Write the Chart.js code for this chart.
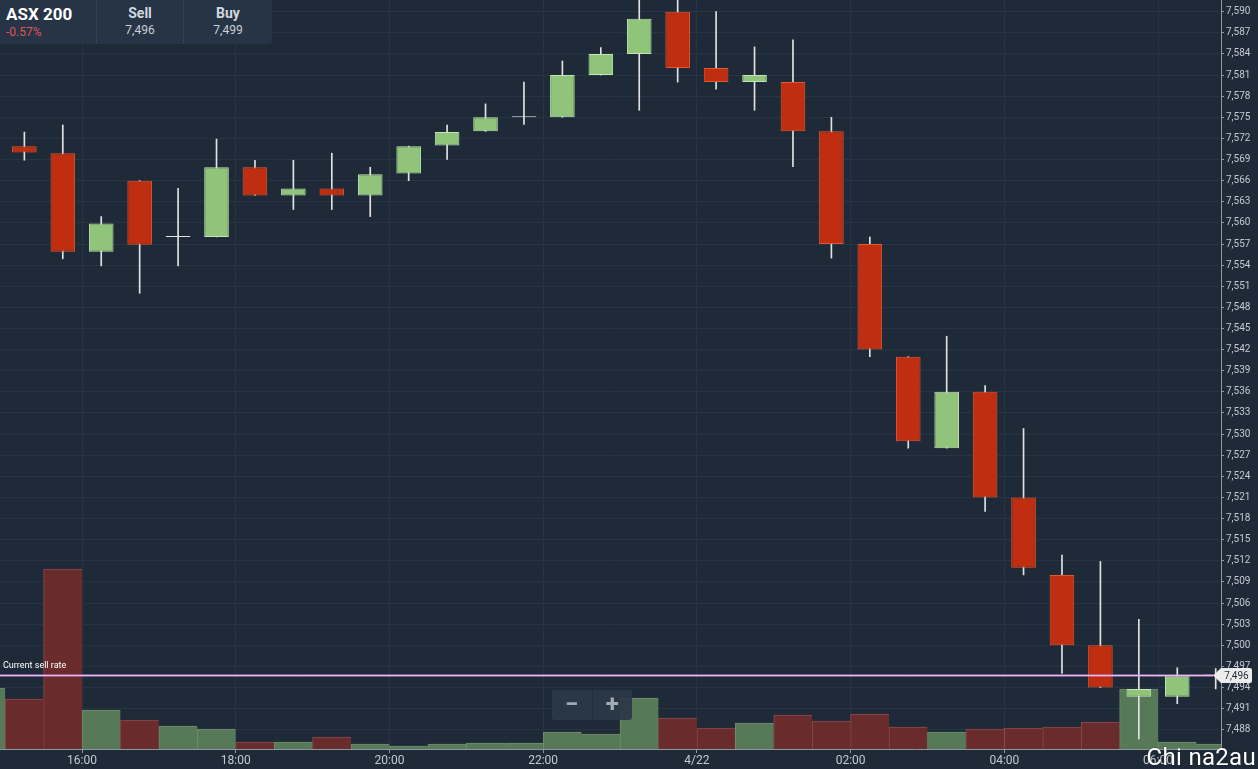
<!DOCTYPE html>
<html>
<head>
<meta charset="utf-8">
<script src="https://cdn.jsdelivr.net/npm/chart.js@4/dist/chart.umd.min.js"></script>
<style>
  html, body { margin: 0; padding: 0; background: #1f2a38; overflow: hidden; }
  body { width: 1258px; height: 769px; position: relative; font-family: Roboto, "Noto Sans", sans-serif; }
  #wrap { position: absolute; left: 0; top: 0; width: 1258px; height: 769px; }
  .header { position: absolute; left: 0; top: 0; width: 272px; height: 44px; background: #263446;
    border-radius: 0 0 4px 0; display: flex; }
  .header .cell { height: 44px; box-sizing: border-box; }
  .header .name { width: 97px; padding: 5px 0 0 6px; border-right: 1px solid #34435a; }
  .header .px { width: 87px; text-align: center; padding-top: 5px; border-right: 1px solid #34435a; }
  .header .px:last-child { border-right: none; width: 88px; }
  .title { color: #fff; font-weight: 700; font-size: 17px; line-height: 19px; }
  .chg { color: #e0525a; font-size: 12px; line-height: 14px; margin-top: 1px; }
  .lab { color: #d3d8de; font-weight: 700; font-size: 14px; line-height: 17px; }
  .val { color: #c9ced5; font-size: 12px; line-height: 15px; margin-top: 1px; }
  .zoom { position: absolute; left: 552px; top: 690px; width: 80px; height: 30px; background: rgba(43,56,71,0.93);
    border-radius: 3px; display: flex; color: #a3acb6; font-weight: 700; font-size: 24px; }
  .zoom div { width: 40px; text-align: center; line-height: 29px; }
  .zoom div:first-child { border-right: 1px solid #24303e; }
  .mark { position: absolute; right: 2px; bottom: -2px; color: #fff; font-size: 24px; letter-spacing: 0.3px;
    text-shadow: 0 0 2px rgba(0,0,0,0.5); }
</style>
</head>
<body>
<div id="wrap"><canvas id="chart" width="1258" height="769"></canvas></div>
<div class="header">
  <div class="cell name"><div class="title">ASX 200</div><div class="chg">-0.57%</div></div>
  <div class="cell px"><div class="lab">Sell</div><div class="val">7,496</div></div>
  <div class="cell px"><div class="lab">Buy</div><div class="val">7,499</div></div>
</div>
<div class="zoom"><div>−</div><div>+</div></div>
<div class="mark">Chi na2au</div>
<script>
// 30-minute candles, start time of each slot (14:30 one only shows its volume)
const times = ['14:30','15:00','15:30','16:00','16:30','17:00','17:30','18:00','18:30','19:00','19:30',
  '20:00','20:30','21:00','21:30','22:00','22:30','23:00','23:30','00:00','00:30','01:00','01:30',
  '02:00','02:30','03:00','03:30','04:00','04:30','05:00','05:30','06:00','06:30'];

const opens  = [null, 7570.9, 7569.9, 7555.9, 7566.0, 7558.0, 7558.0, 7567.9, 7563.9, 7564.9, 7563.9,
  7567.0, 7571.0, 7573.0, 7575.0, 7575.0, 7581.0, 7584.0, 7590.0, 7582.0, 7580.0, 7580.0, 7573.0,
  7557.0, 7541.0, 7528.0, 7536.0, 7521.0, 7510.0, 7500.0, 7492.7, 7492.7, 7495.7];
const highs  = [null, 7572.9, 7573.9, 7560.9, 7566.0, 7564.9, 7571.9, 7568.9, 7568.9, 7569.9, 7567.9,
  7570.9, 7573.9, 7576.9, 7580.0, 7583.0, 7584.9, 7592.5, 7592.5, 7590.0, 7585.0, 7586.0, 7575.0,
  7558.0, 7541.0, 7543.9, 7536.9, 7530.8, 7512.8, 7511.9, 7503.7, 7496.8, 7496.7];
const lows   = [null, 7568.9, 7554.9, 7553.9, 7550.0, 7553.9, 7558.0, 7563.9, 7561.9, 7561.9, 7560.9,
  7566.0, 7569.0, 7573.0, 7574.0, 7575.0, 7581.0, 7576.0, 7580.0, 7579.0, 7576.0, 7568.0, 7555.0,
  7541.0, 7528.0, 7528.0, 7519.0, 7510.0, 7496.0, 7494.0, 7486.7, 7491.7, 7493.8];
const closes = [null, 7570.0, 7555.9, 7559.9, 7556.9, 7558.0, 7567.9, 7563.9, 7564.9, 7563.9, 7566.9,
  7570.9, 7572.9, 7575.0, 7575.0, 7581.0, 7584.0, 7589.0, 7582.0, 7580.0, 7581.0, 7573.0, 7557.0,
  7542.0, 7529.0, 7536.0, 7521.0, 7511.0, 7500.0, 7494.0, 7493.8, 7495.7, 7495.8];
const volumes = [610, 500, 1800, 390, 290, 230, 200, 70, 70, 120, 50, 30, 50, 60, 60, 170, 150,
  510, 310, 210, 260, 340, 280, 350, 220, 170, 200, 210, 220, 270, 600, 70, 50];

const xTickHours  = [16, 18, 20, 22, 24, 26, 28, 30];
const xTickLabels = ['16:00', '18:00', '20:00', '22:00', '4/22', '02:00', '04:00', '06:00'];

const currentSell = 7495.8;

const GREEN = '#8fc47a', GREEN_EDGE = '#c3e4b3';
const RED = '#bf2e10', RED_EDGE = '#e2572f';
const GRID = '#273444', AXIS = '#8d97a2', TICK_TXT = '#c4c9d0';

function toHour(t) {
  let h = +t.slice(0, 2);
  const m = +t.slice(3);
  if (h < 12) h += 24; // after midnight, next day
  return h + m / 60;
}
const centers = times.map(t => toHour(t) + 0.25);

function dir(i) {
  if (opens[i] == null) return 1;
  return closes[i] > opens[i] ? 1 : (closes[i] < opens[i] ? -1 : 0);
}

const volData  = times.map((t, i) => ({ x: centers[i], y: volumes[i] }));
const wickData = times.map((t, i) => ({ x: centers[i], y: highs[i] == null ? null : [lows[i], highs[i]] }));
const bodyData = times.map((t, i) => ({ x: centers[i], y: opens[i] == null ? null : [opens[i], closes[i]] }));

const sellLine = {
  id: 'sellLine',
  afterDatasetsDraw(chart) {
    const { ctx, chartArea, scales } = chart;
    const y = Math.round(scales.y.getPixelForValue(currentSell)) + 0.5;
    ctx.save();
    ctx.strokeStyle = '#cf8fe3';
    ctx.lineWidth = 2;
    ctx.beginPath();
    ctx.moveTo(chartArea.left, y);
    ctx.lineTo(chartArea.right - 8, y);
    ctx.stroke();
    ctx.strokeStyle = 'rgba(255,235,255,0.7)';
    ctx.lineWidth = 0.7;
    ctx.beginPath();
    ctx.moveTo(chartArea.left, y);
    ctx.lineTo(chartArea.right - 8, y);
    ctx.stroke();
    ctx.fillStyle = '#ffffff';
    ctx.font = '9px Roboto';
    ctx.textBaseline = 'alphabetic';
    ctx.fillText('Current sell rate', 3, y - 8);
    ctx.restore();
  },
  afterDraw(chart) {
    const { ctx, chartArea, scales } = chart;
    const y = Math.round(scales.y.getPixelForValue(currentSell)) + 0.5;
    const x0 = chartArea.right;
    ctx.save();
    ctx.fillStyle = '#ececec';
    ctx.beginPath();
    ctx.moveTo(x0 - 8, y);
    ctx.lineTo(x0, y - 7.5);
    ctx.lineTo(x0 + 29, y - 7.5);
    ctx.quadraticCurveTo(x0 + 31, y - 7.5, x0 + 31, y - 5.5);
    ctx.lineTo(x0 + 31, y + 5.5);
    ctx.quadraticCurveTo(x0 + 31, y + 7.5, x0 + 29, y + 7.5);
    ctx.lineTo(x0, y + 7.5);
    ctx.closePath();
    ctx.fill();
    ctx.fillStyle = '#1f2a38';
    ctx.font = '10px Roboto';
    ctx.textAlign = 'center';
    ctx.textBaseline = 'middle';
    ctx.fillText(Math.round(currentSell).toLocaleString('en-US'), x0 + 15.5, y + 0.5);
    ctx.restore();
  }
};

new Chart(document.getElementById('chart'), {
  type: 'bar',
  data: {
    datasets: [
      {
        label: 'Volume',
        data: volData,
        yAxisID: 'yv',
        order: 3,
        grouped: false,
        barPercentage: 1,
        categoryPercentage: 1,
        backgroundColor: volData.map((d, i) => dir(i) < 0 ? '#6a2b2d' : '#587958'),
        borderColor: volData.map((d, i) => dir(i) < 0 ? '#8a4b4c' : '#6d8e6c'),
        borderWidth: { top: 1, left: 1, right: 0, bottom: 0 },
        borderSkipped: false
      },
      {
        label: 'Wick',
        data: wickData,
        yAxisID: 'y',
        order: 2,
        grouped: false,
        barThickness: 1,
        backgroundColor: '#e2e2e2'
      },
      {
        label: 'Body',
        data: bodyData,
        yAxisID: 'y',
        order: 1,
        grouped: false,
        barPercentage: 0.64,
        categoryPercentage: 1,
        minBarLength: 1,
        backgroundColor: bodyData.map((d, i) => dir(i) > 0 ? GREEN : (dir(i) < 0 ? RED : '#e2e2e2')),
        borderColor: bodyData.map((d, i) => dir(i) > 0 ? GREEN_EDGE : (dir(i) < 0 ? RED_EDGE : '#e2e2e2')),
        borderWidth: 1,
        borderSkipped: false
      }
    ]
  },
  options: {
    responsive: false,
    animation: false,
    layout: { padding: 0 },
    plugins: { legend: { display: false }, tooltip: { enabled: false } },
    scales: {
      x: {
        type: 'linear',
        position: 'bottom',
        min: 14.933,
        max: 30.819,
        offset: false,
        grid: { offset: false, color: GRID, tickColor: AXIS, tickLength: 4 },
        border: { color: AXIS },
        afterBuildTicks(scale) { scale.ticks = xTickHours.map(v => ({ value: v })); },
        afterFit(scale) {
          scale.height = 20;
          scale.paddingLeft = 0;
          scale.paddingRight = 0;
        },
        ticks: {
          color: TICK_TXT,
          font: { family: 'Roboto', size: 12 },
          padding: 1,
          maxRotation: 0,
          autoSkip: false,
          callback: v => xTickLabels[xTickHours.indexOf(v)]
        }
      },
      y: {
        type: 'linear',
        position: 'right',
        min: 7485.27,
        max: 7591.66,
        grid: { color: GRID, tickColor: AXIS, tickLength: 3 },
        border: { color: AXIS },
        afterFit(scale) {
          scale.width = 37;
          scale.paddingTop = 0;
          scale.paddingBottom = 0;
        },
        ticks: {
          stepSize: 3,
          includeBounds: false,
          color: TICK_TXT,
          font: { family: 'Roboto', size: 10 },
          padding: 2,
          callback: v => v.toLocaleString('en-US')
        }
      },
      yv: {
        type: 'linear',
        display: false,
        min: 0,
        max: 7490
      }
    }
  },
  plugins: [sellLine]
});
</script>
</body>
</html>
